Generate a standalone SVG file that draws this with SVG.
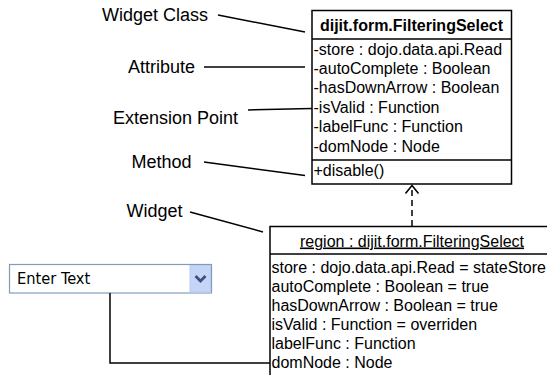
<svg xmlns="http://www.w3.org/2000/svg" width="547" height="375" viewBox="0 0 547 375">
<style>
.lbl{font-family:"Liberation Sans",Arial,sans-serif;font-size:18px;fill:#000}
.t{font-family:"Liberation Sans",Arial,sans-serif;font-size:16px;fill:#000}
.b{font-weight:bold}
.box{fill:#fff;stroke:#000;stroke-width:1.5}
.ln{stroke:#000;stroke-width:1.5;fill:none}
</style>
<rect width="547" height="375" fill="#fff"/>
<g id="label-widget-class"><text class="lbl" x="102" y="21">Widget Class</text></g>
<g id="label-attribute"><text class="lbl" x="128" y="73">Attribute</text></g>
<g id="label-extension-point"><text class="lbl" x="113" y="123.5">Extension Point</text></g>
<g id="label-method"><text class="lbl" x="131.5" y="167.5">Method</text></g>
<g id="label-widget"><text class="lbl" x="126.5" y="217">Widget</text></g>
<g id="class-filteringselect">
<rect class="box" x="312" y="10.5" width="199.5" height="173.5"/>
<line class="ln" x1="312" y1="39" x2="511.5" y2="39"/>
<line class="ln" x1="312" y1="160" x2="511.5" y2="160"/>
<text class="t b" x="411.5" y="30.5" text-anchor="middle">dijit.form.FilteringSelect</text>
<text class="t" x="313.5" y="55">-store : dojo.data.api.Read</text>
<text class="t" x="313.5" y="74">-autoComplete : Boolean</text>
<text class="t" x="313.5" y="93">-hasDownArrow : Boolean</text>
<text class="t" x="313.5" y="112.5">-isValid : Function</text>
<text class="t" x="313.5" y="132">-labelFunc : Function</text>
<text class="t" x="313.5" y="151.5">-domNode : Node</text>
<text class="t" x="313.5" y="175.5">+disable()</text>
</g>
<g id="instance-region">
<rect class="box" x="270" y="226.5" width="284" height="160"/>
<line class="ln" x1="270" y1="254" x2="554" y2="254"/>
<text class="t" x="412" y="246.5" text-anchor="middle" text-decoration="underline">region : dijit.form.FilteringSelect</text>
<text class="t" x="271.5" y="273">store : dojo.data.api.Read = stateStore</text>
<text class="t" x="271.5" y="292">autoComplete : Boolean = true</text>
<text class="t" x="271.5" y="311">hasDownArrow : Boolean = true</text>
<text class="t" x="271.5" y="330">isValid : Function = overriden</text>
<text class="t" x="271.5" y="349">labelFunc : Function</text>
<text class="t" x="271.5" y="368">domNode : Node</text>
</g>
<g id="dropdown-widget">
<rect x="9.5" y="264.5" width="202" height="28.5" fill="#fff" stroke="#7f9db9" stroke-width="1.2"/>
<rect x="190" y="265.5" width="20.5" height="26.5" fill="#c5d5f8" stroke="#b9cbf2" stroke-width="1"/>
<polyline points="195.5,276 200.5,281 205.5,276" fill="none" stroke="#3c5080" stroke-width="2.8"/>
<text x="17" y="284" font-family="'DejaVu Sans Condensed','DejaVu Sans',sans-serif" font-size="16.3" fill="#000">Enter Text</text>
</g>
<g id="connectors">
<line class="ln" x1="218" y1="15" x2="305" y2="32"/>
<line class="ln" x1="204" y1="67" x2="305" y2="67"/>
<line class="ln" x1="248" y1="110" x2="312" y2="108.5"/>
<line class="ln" x1="204" y1="162" x2="305" y2="175.5"/>
<line class="ln" x1="190" y1="212" x2="263" y2="232"/>
<line class="ln" x1="412" y1="226" x2="412" y2="187" stroke-width="2.5" stroke-dasharray="6,4"/>
<polyline class="ln" points="405.5,193.5 412,185.5 418.5,193.5"/>
<polyline class="ln" points="110,293 110,363 270,363"/>
</g>
</svg>
